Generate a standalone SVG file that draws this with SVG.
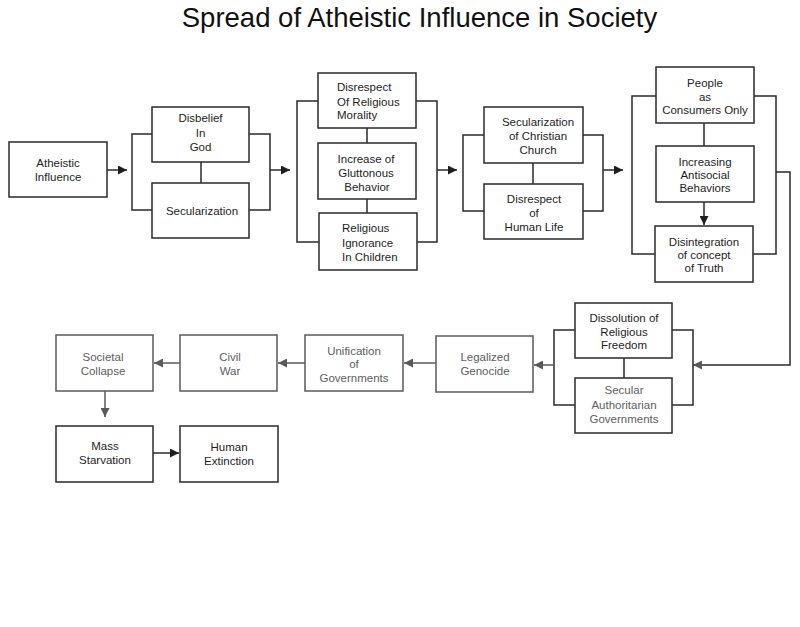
<svg xmlns="http://www.w3.org/2000/svg" width="800" height="627" viewBox="0 0 800 627">
<style>
  .box{fill:#fff;stroke:#2a2a2a;stroke-width:1.5}
  .box.g{stroke:#5a5a5a}
  .t{font-family:"Liberation Sans",Arial,sans-serif;font-size:11.5px;fill:#1e1e1e;text-anchor:middle}
  .t.l{text-anchor:start}
  .t.g{fill:#5e5e5e}
  .title{font-family:"Liberation Sans",Arial,sans-serif;font-size:27.5px;fill:#111;text-anchor:middle}
  .c{fill:none;stroke:#2a2a2a;stroke-width:1.5}
  .c.g{stroke:#5a5a5a}
</style>
<defs>
  <marker id="ah" viewBox="0 0 10 10" refX="10" refY="5" markerWidth="10" markerHeight="9" markerUnits="userSpaceOnUse" orient="auto"><path d="M0,0 L10,5 L0,10 z" fill="#1e1e1e"/></marker>
  <marker id="ahg" viewBox="0 0 10 10" refX="10" refY="5" markerWidth="10" markerHeight="9" markerUnits="userSpaceOnUse" orient="auto"><path d="M0,0 L10,5 L0,10 z" fill="#5a5a5a"/></marker>
</defs>
<rect width="800" height="627" fill="#fff"/>
<text class="title" x="419.5" y="27">Spread of Atheistic Influence in Society</text>

<g id="connectors">
  <path class="c" d="M107,170 H127" marker-end="url(#ah)"/>
  <path class="c" d="M152,134 H132 V210 H152"/>
  <path class="c" d="M249,134 H270 V210 H249"/>
  <path class="c" d="M201,162 V183"/>
  <path class="c" d="M270,170 H290" marker-end="url(#ah)"/>
  <path class="c" d="M318,101 H297 V242 H319"/>
  <path class="c" d="M416,101 H437 V242 H417"/>
  <path class="c" d="M367,128 V143 M367,199 V213"/>
  <path class="c" d="M437,170 H457" marker-end="url(#ah)"/>
  <path class="c" d="M484,135 H463 V211 H484"/>
  <path class="c" d="M583,135 H603 V211 H583"/>
  <path class="c" d="M533,163 V184"/>
  <path class="c" d="M603,170 H623" marker-end="url(#ah)"/>
  <path class="c" d="M656,96 H632 V254 H655"/>
  <path class="c" d="M754,96 H776 V254 H753"/>
  <path class="c" d="M704,123 V146"/>
  <path class="c" d="M704,202 V225" marker-end="url(#ah)"/>
  <path class="c" d="M776,172 H790 V365 H693" marker-end="url(#ahg)"/>
  <path class="c" d="M672,330 H693 V405 H672"/>
  <path class="c" d="M575,330 H554 V405 H575"/>
  <path class="c" d="M624,358 V378"/>
  <path class="c g" d="M554,365 H534" marker-end="url(#ahg)"/>
  <path class="c g" d="M436,363 H404" marker-end="url(#ahg)"/>
  <path class="c g" d="M305,363 H278" marker-end="url(#ahg)"/>
  <path class="c g" d="M180,363 H154" marker-end="url(#ahg)"/>
  <path class="c g" d="M105,391 V417" marker-end="url(#ahg)"/>
  <path class="c" d="M153,453 H179" marker-end="url(#ah)"/>
</g>

<g id="atheistic-influence">
  <rect class="box" x="9" y="142" width="98" height="55"/>
  <text class="t" x="58" y="167">Atheistic</text>
  <text class="t" x="58" y="181">Influence</text>
</g>
<g id="disbelief-in-god">
  <rect class="box" x="152" y="107" width="97" height="55"/>
  <text class="t" x="200.5" y="122">Disbelief</text>
  <text class="t" x="200.5" y="137">In</text>
  <text class="t" x="200.5" y="151">God</text>
</g>
<g id="secularization">
  <rect class="box" x="152" y="183" width="97" height="55"/>
  <text class="t" x="202" y="215">Secularization</text>
</g>
<g id="disrespect-religious-morality">
  <rect class="box" x="318" y="73" width="98" height="55"/>
  <text class="t l" x="337" y="91">Disrespect</text>
  <text class="t l" x="337" y="106">Of Religious</text>
  <text class="t l" x="337" y="119">Morality</text>
</g>
<g id="gluttonous-behavior">
  <rect class="box" x="318" y="143" width="98" height="56"/>
  <text class="t" x="366" y="163">Increase of</text>
  <text class="t" x="366" y="177">Gluttonous</text>
  <text class="t" x="367" y="191">Behavior</text>
</g>
<g id="religious-ignorance">
  <rect class="box" x="319" y="213" width="98" height="57"/>
  <text class="t l" x="342" y="232">Religious</text>
  <text class="t l" x="342" y="247">Ignorance</text>
  <text class="t l" x="342" y="261">In Children</text>
</g>
<g id="secularization-church">
  <rect class="box" x="484" y="107" width="99" height="56"/>
  <text class="t" x="538" y="126">Secularization</text>
  <text class="t" x="538" y="140">of Christian</text>
  <text class="t" x="538" y="154">Church</text>
</g>
<g id="disrespect-human-life">
  <rect class="box" x="484" y="184" width="99" height="55"/>
  <text class="t" x="534" y="203">Disrespect</text>
  <text class="t" x="534" y="217">of</text>
  <text class="t" x="534" y="231">Human Life</text>
</g>
<g id="people-consumers">
  <rect class="box" x="656" y="67" width="98" height="56"/>
  <text class="t" x="705" y="87">People</text>
  <text class="t" x="705" y="101">as</text>
  <text class="t" x="705" y="114">Consumers Only</text>
</g>
<g id="antisocial-behaviors">
  <rect class="box" x="656" y="146" width="98" height="56"/>
  <text class="t" x="705" y="166">Increasing</text>
  <text class="t" x="705" y="179">Antisocial</text>
  <text class="t" x="705" y="192">Behaviors</text>
</g>
<g id="disintegration-truth">
  <rect class="box" x="655" y="226" width="98" height="56"/>
  <text class="t" x="704" y="246">Disintegration</text>
  <text class="t" x="704" y="259">of concept</text>
  <text class="t" x="704" y="272">of Truth</text>
</g>
<g id="dissolution-freedom">
  <rect class="box" x="575" y="303" width="97" height="55"/>
  <text class="t" x="624" y="322">Dissolution of</text>
  <text class="t" x="624" y="336">Religious</text>
  <text class="t" x="624" y="349">Freedom</text>
</g>
<g id="secular-authoritarian">
  <rect class="box" x="575" y="378" width="97" height="55"/>
  <text class="t g" x="624" y="394">Secular</text>
  <text class="t g" x="624" y="409">Authoritarian</text>
  <text class="t g" x="624" y="423">Governments</text>
</g>
<g id="legalized-genocide">
  <rect class="box g" x="436" y="336" width="97" height="56"/>
  <text class="t g" x="485" y="361">Legalized</text>
  <text class="t g" x="485" y="375">Genocide</text>
</g>
<g id="unification-governments">
  <rect class="box g" x="305" y="335" width="98" height="56"/>
  <text class="t g" x="354" y="355">Unification</text>
  <text class="t g" x="354" y="368">of</text>
  <text class="t g" x="354" y="382">Governments</text>
</g>
<g id="civil-war">
  <rect class="box g" x="180" y="335" width="97" height="56"/>
  <text class="t g" x="230" y="361">Civil</text>
  <text class="t g" x="230" y="375">War</text>
</g>
<g id="societal-collapse">
  <rect class="box g" x="56" y="335" width="97" height="56"/>
  <text class="t g" x="103" y="361">Societal</text>
  <text class="t g" x="103" y="375">Collapse</text>
</g>
<g id="mass-starvation">
  <rect class="box" x="56" y="426" width="97" height="56"/>
  <text class="t" x="105" y="450">Mass</text>
  <text class="t" x="105" y="464">Starvation</text>
</g>
<g id="human-extinction">
  <rect class="box" x="180" y="426" width="98" height="56"/>
  <text class="t" x="229" y="451">Human</text>
  <text class="t" x="229" y="465">Extinction</text>
</g>
</svg>
